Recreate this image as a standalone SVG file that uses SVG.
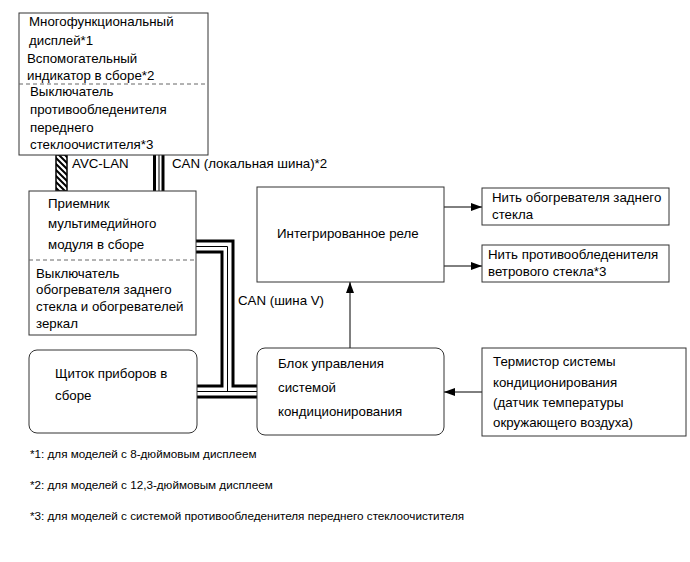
<svg xmlns="http://www.w3.org/2000/svg" width="690" height="562" viewBox="0 0 690 562">
<style>
.box{fill:#fff;stroke:#333;stroke-width:1}
.dash{stroke:#666;stroke-width:1;stroke-dasharray:4 3;fill:none}
.t{font-family:"Liberation Sans",Arial,sans-serif;font-size:13.3px;fill:#000}
.fn{font-family:"Liberation Sans",Arial,sans-serif;font-size:11.7px;fill:#000}
.thick{stroke:#000;stroke-width:3;fill:none}
.thin{stroke:#000;stroke-width:1;fill:none}
.arr{stroke:#000;stroke-width:1;fill:none;marker-end:url(#ah)}
</style>
<defs>
<marker id="ah" markerWidth="11" markerHeight="8" refX="11" refY="4" orient="auto" markerUnits="userSpaceOnUse">
<path d="M0,0 L11,4 L0,8 Z" fill="#000"/>
</marker>
<pattern id="hatch" patternUnits="userSpaceOnUse" width="6" height="6">
<path d="M0,0 L6,6 M-1,5 L1,7 M5,-1 L7,1" stroke="#000" stroke-width="2"/>
</pattern>
</defs>
<rect width="690" height="562" fill="#fff"/>

<g id="connectors">
<rect x="56" y="155" width="11" height="36" fill="url(#hatch)" stroke="#000" stroke-width="1.5"/>
<line class="thick" x1="154.5" y1="155" x2="154.5" y2="191"/>
<line class="thin" x1="159" y1="155" x2="159" y2="191"/>
<line class="thick" x1="163" y1="155" x2="163" y2="191"/>
<path class="thick" d="M196,241 H233 V386 H258"/>
<path class="thin" d="M196,246.5 H227.5 V391.5"/>
<path class="thick" d="M196,252 H222 V386 H197"/>
<line class="thin" x1="197" y1="391.5" x2="258" y2="391.5"/>
<line class="thick" x1="197" y1="397" x2="258" y2="397"/>
<line class="arr" x1="444" y1="207" x2="482" y2="207"/>
<line class="arr" x1="444" y1="266" x2="482" y2="266"/>
<line class="arr" x1="350" y1="348" x2="350" y2="282"/>
<line class="arr" x1="482" y1="392" x2="444" y2="392"/>
<text class="t" x="72" y="168">AVC-LAN</text>
<text class="t" x="172" y="168">CAN (локальная шина)*2</text>
<text class="t" x="238" y="305">CAN (шина V)</text>
</g>

<g id="multi-display">
<rect class="box" x="19" y="13" width="189" height="142"/>
<line class="dash" x1="19" y1="84" x2="208" y2="84"/>
<text class="t" x="29" y="26">Многофункциональный</text>
<text class="t" x="29" y="45">дисплей*1</text>
<text class="t" x="27" y="63">Вспомогательный</text>
<text class="t" x="27" y="80">индикатор в сборе*2</text>
<text class="t" x="30" y="96">Выключатель</text>
<text class="t" x="30" y="114">противообледенителя</text>
<text class="t" x="30" y="132">переднего</text>
<text class="t" x="30" y="149">стеклоочистителя*3</text>
</g>

<g id="multimedia">
<rect class="box" x="29" y="191" width="167" height="144"/>
<line class="dash" x1="29" y1="260" x2="196" y2="260"/>
<text class="t" x="48" y="208">Приемник</text>
<text class="t" x="48" y="228">мультимедийного</text>
<text class="t" x="48" y="249">модуля в сборе</text>
<text class="t" x="36" y="278">Выключатель</text>
<text class="t" x="36" y="294">обогревателя заднего</text>
<text class="t" x="36" y="311">стекла и обогревателей</text>
<text class="t" x="36" y="328">зеркал</text>
</g>

<g id="relay">
<rect class="box" x="257" y="187" width="187" height="95"/>
<text class="t" x="277" y="238">Интегрированное реле</text>
</g>

<g id="rear-heater">
<rect class="box" x="482" y="188" width="187" height="37"/>
<text class="t" x="492" y="202">Нить обогревателя заднего</text>
<text class="t" x="492" y="219">стекла</text>
</g>

<g id="ws-deicer">
<rect class="box" x="482" y="245" width="187" height="37"/>
<text class="t" x="488" y="259">Нить противообледенителя</text>
<text class="t" x="488" y="276">ветрового стекла*3</text>
</g>

<g id="cluster">
<rect class="box" x="29" y="350" width="168" height="83" rx="8"/>
<text class="t" x="55" y="378">Щиток приборов в</text>
<text class="t" x="55" y="400">сборе</text>
</g>

<g id="ac-ecu">
<rect class="box" x="257" y="348" width="187" height="87" rx="8"/>
<text class="t" x="278" y="368">Блок управления</text>
<text class="t" x="278" y="392">системой</text>
<text class="t" x="278" y="416">кондиционирования</text>
</g>

<g id="thermistor">
<rect class="box" x="482" y="348" width="204" height="88"/>
<text class="t" x="493" y="366">Термистор системы</text>
<text class="t" x="493" y="387">кондиционирования</text>
<text class="t" x="493" y="407">(датчик температуры</text>
<text class="t" x="493" y="427">окружающего воздуха)</text>
</g>

<g id="footnotes">
<text class="fn" x="30" y="458">*1: для моделей с 8-дюймовым дисплеем</text>
<text class="fn" x="30" y="489">*2: для моделей с 12,3-дюймовым дисплеем</text>
<text class="fn" x="30" y="520">*3: для моделей с системой противообледенителя переднего стеклоочистителя</text>
</g>
</svg>
